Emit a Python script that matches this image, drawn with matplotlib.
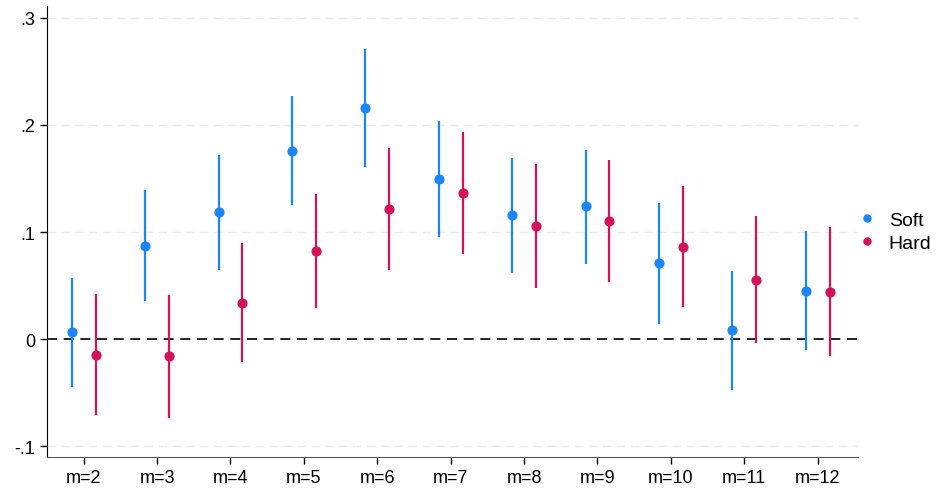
import matplotlib
matplotlib.use("Agg")
import matplotlib.pyplot as plt
import numpy as np

plt.rcParams['font.family'] = ['Liberation Sans', 'DejaVu Sans']

labels = ["m=2", "m=3", "m=4", "m=5", "m=6", "m=7", "m=8", "m=9", "m=10", "m=11", "m=12"]

soft = [0.0065, 0.087, 0.119, 0.176, 0.216, 0.1495, 0.116, 0.124, 0.071, 0.0084, 0.045]
soft_lo = [-0.045, 0.0355, 0.0645, 0.125, 0.161, 0.0953, 0.0617, 0.070, 0.014, -0.0477, -0.0103]
soft_hi = [0.057, 0.139, 0.172, 0.227, 0.271, 0.204, 0.169, 0.177, 0.127, 0.0636, 0.101]

hard = [-0.015, -0.016, 0.0336, 0.082, 0.1215, 0.1364, 0.1056, 0.110, 0.086, 0.055, 0.044]
hard_lo = [-0.071, -0.074, -0.0215, 0.029, 0.0645, 0.0794, 0.0477, 0.053, 0.030, -0.0037, -0.0159]
hard_hi = [0.042, 0.041, 0.0897, 0.1355, 0.1785, 0.193, 0.1636, 0.167, 0.143, 0.115, 0.1047]

SOFT_COLOR = "#1a85ff"
HARD_COLOR = "#d41159"

fig = plt.figure(figsize=(9.36, 4.89), dpi=100)
ax = fig.add_axes([0.0502, 0.0634, 0.8665, 0.9223])

x = np.arange(1, len(labels) + 1)
offset = 0.163

for vals, lo, hi, color, name, sign in [
    (soft, soft_lo, soft_hi, SOFT_COLOR, "Soft", -1),
    (hard, hard_lo, hard_hi, HARD_COLOR, "Hard", 1),
]:
    xs = x + sign * offset
    ax.vlines(xs, lo, hi, color=color, linewidth=1.6)
    ax.plot(xs, vals, "o", color=color, markersize=6.3, label=name, linestyle="none")

ax.axhline(0, color="black", linestyle=(0, (6, 4)), linewidth=1.2, zorder=0)
for yv in [-0.1, 0.1, 0.2, 0.3]:
    ax.axhline(yv, color="#e8e8e8", linestyle=(0, (6, 4)), linewidth=1, zorder=0)

ax.set_xlim(0.5, 11.55)
ax.set_ylim(-0.11, 0.311)
ax.set_xticks(x)
ax.set_xticklabels(labels)
ax.set_yticks([-0.1, 0, 0.1, 0.2, 0.3])
ax.set_yticklabels(["-.1", "0", ".1", ".2", ".3"])
ax.tick_params(labelsize=13, length=5, width=1)

for side in ["top", "right"]:
    ax.spines[side].set_visible(False)
ax.spines["bottom"].set_color("#555555")

ax.legend(loc="center left", bbox_to_anchor=(0.99, 0.5), frameon=False,
          fontsize=14, handlelength=1.0, handletextpad=0.6, borderaxespad=0.0,
          markerscale=0.8, labelspacing=0.3)

fig.savefig("out.png", dpi=100)
